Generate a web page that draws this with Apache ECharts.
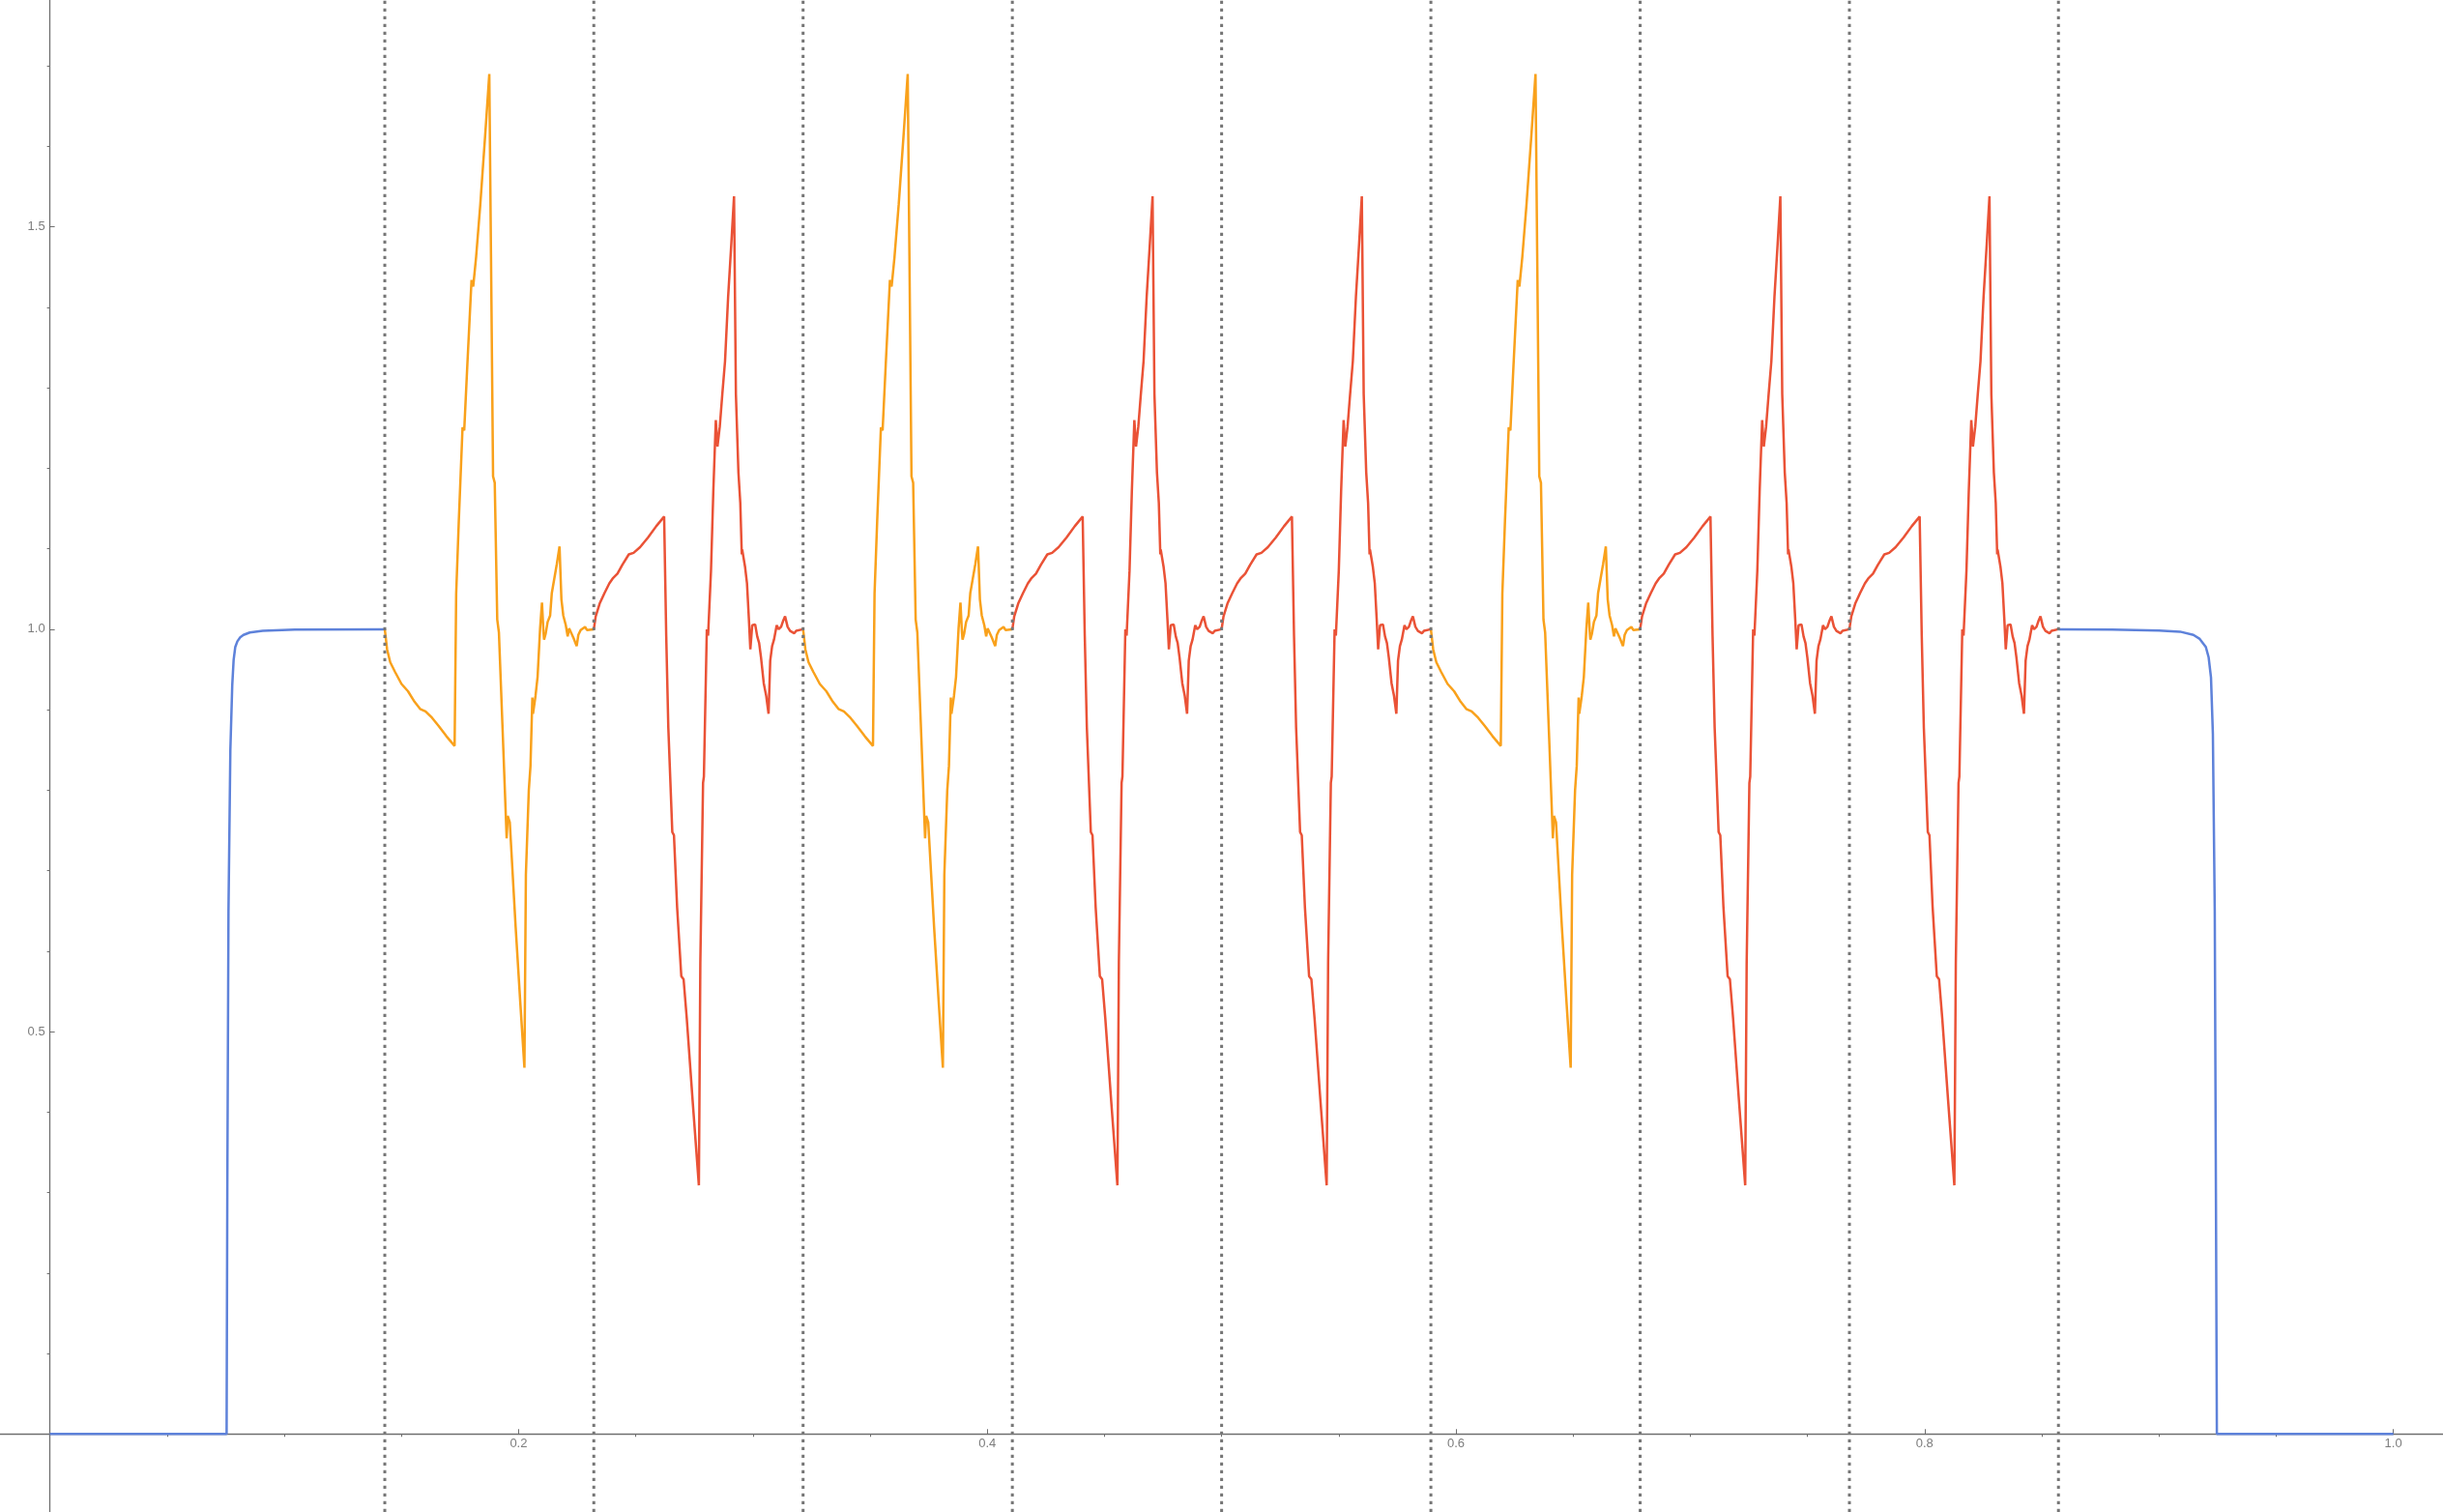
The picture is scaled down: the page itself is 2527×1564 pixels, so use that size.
<!DOCTYPE html>
<html>
<head>
<meta charset="utf-8">
<script src="https://cdn.jsdelivr.net/npm/echarts@6/dist/echarts.min.js"></script>
<style>
    html, body { margin: 0; padding: 0; background: #fff; }
    #chart { width: 2527px; height: 1564px; }
</style>
</head>
<body>
<div id="chart"></div>
<script>
// dotted vertical separators
var bounds = [0.1429, 0.2321, 0.3214, 0.4107, 0.5, 0.5893, 0.6786, 0.7679, 0.8571];
// which slot (between two separators) holds which pulse shape
var orangeSlots = [0, 2, 5];
var redSlots = [1, 3, 4, 6, 7];

// orange pulse, position inside its slot (0..1) and value
var orangeT = [0, 0.011, 0.026, 0.049, 0.08, 0.111, 0.142, 0.169, 0.195, 0.226, 0.257, 0.295, 0.334,
    0.3415, 0.354, 0.372, 0.38, 0.395, 0.415, 0.423, 0.437, 0.457, 0.48, 0.5,
    0.508, 0.518, 0.526, 0.538, 0.546, 0.565, 0.583, 0.588, 0.598, 0.626, 0.649, 0.668,
    0.675, 0.689, 0.697, 0.706, 0.709, 0.721, 0.731, 0.743, 0.752, 0.759, 0.762, 0.77, 0.779, 0.791,
    0.799, 0.811, 0.823, 0.836, 0.845, 0.854, 0.866, 0.875, 0.882, 0.888, 0.903, 0.918, 0.926, 0.937,
    0.958, 0.967, 1];
var orangeV = [1.0, 0.975, 0.959, 0.947, 0.932, 0.923, 0.91, 0.901, 0.898, 0.89, 0.88, 0.867, 0.855,
    1.044, 1.134, 1.251, 1.247, 1.329, 1.434, 1.426, 1.463, 1.528, 1.613, 1.69,
    1.467, 1.19, 1.182, 1.012, 0.996, 0.866, 0.74, 0.768, 0.76, 0.63, 0.533, 0.455,
    0.695, 0.8, 0.83, 0.915, 0.895, 0.917, 0.941, 1.001, 1.033, 0.997, 0.987, 0.995, 1.009, 1.017,
    1.045, 1.063, 1.081, 1.103, 1.037, 1.017, 1.005, 0.991, 1.001, 0.999, 0.989, 0.979, 0.993, 0.999,
    1.003, 0.999, 1.0];

// red pulse
var redT = [0, 0.009, 0.028, 0.051, 0.074, 0.09, 0.113, 0.136, 0.167, 0.19, 0.221, 0.259, 0.298, 0.336,
    0.346, 0.356, 0.375, 0.383, 0.398, 0.418, 0.429, 0.444, 0.472, 0.502,
    0.509, 0.522, 0.526, 0.54, 0.546, 0.56, 0.571, 0.583, 0.591, 0.602, 0.614, 0.627, 0.642, 0.657, 0.67,
    0.679, 0.691, 0.7, 0.707, 0.709, 0.723, 0.732, 0.741, 0.748, 0.757, 0.765, 0.771, 0.781, 0.79, 0.799,
    0.812, 0.824, 0.835, 0.843, 0.852, 0.861, 0.874, 0.883, 0.895, 0.904, 0.914, 0.926, 0.938, 0.958,
    0.967, 1];
var redV = [1.0, 1.016, 1.032, 1.045, 1.057, 1.063, 1.069, 1.08, 1.093, 1.095, 1.102, 1.114, 1.128, 1.14,
    0.992, 0.878, 0.748, 0.744, 0.655, 0.569, 0.565, 0.517, 0.415, 0.309,
    0.586, 0.809, 0.817, 1.0, 0.992, 1.073, 1.171, 1.26, 1.227, 1.252, 1.292, 1.333, 1.414, 1.479, 1.538,
    1.292, 1.195, 1.157, 1.093, 1.099, 1.077, 1.057, 1.013, 0.975, 1.005, 1.003, 1.006, 0.991, 0.983, 0.965,
    0.933, 0.917, 0.895, 0.961, 0.979, 0.987, 1.005, 1.0, 1.003, 1.01, 1.016, 1.003, 0.998, 0.995,
    0.998, 1.0];

// blue edges
var blueLeftX = [0, 0.0754, 0.0757, 0.0762, 0.077, 0.0778, 0.0784, 0.0791, 0.08, 0.0812, 0.0826, 0.0853, 0.0908, 0.1045, 0.1429];
var blueLeftY = [0, 0, 0.3, 0.65, 0.85, 0.93, 0.962, 0.978, 0.985, 0.99, 0.993, 0.996, 0.998, 0.9995, 1.0];
var blueRightX = [0.8571, 0.88, 0.9, 0.909, 0.9147, 0.9174, 0.92, 0.9212, 0.9222, 0.923, 0.9238, 0.9243, 0.9247, 1.0];
var blueRightY = [1.0, 0.9995, 0.9985, 0.997, 0.993, 0.988, 0.978, 0.965, 0.94, 0.87, 0.65, 0.3, 0, 0];

// axes
var xMajor = [0.2, 0.4, 0.6, 0.8, 1.0];
var xMinor = [0.05, 0.1, 0.15, 0.25, 0.3, 0.35, 0.45, 0.5, 0.55, 0.65, 0.7, 0.75, 0.85, 0.9, 0.95];
var yMajor = [0.5, 1.0, 1.5];
var yMinor = [0.1, 0.2, 0.3, 0.4, 0.6, 0.7, 0.8, 0.9, 1.1, 1.2, 1.3, 1.4, 1.6, 1.7];

var xMin = -0.0213, xMax = 1.0212;
var yMin = -0.097, yMax = 1.782;

var axisColor = '#6f6f6f';
var labelColor = '#7d7d7d';
var orange = '#F9A11B';
var red = '#EA5236';
var blue = '#5E82DA';

function zip(xs, ys) {
    return xs.map(function (x, i) { return [x, ys[i]]; });
}

function pulse(slot, ts, vs, color) {
    var x0 = bounds[slot];
    var w = bounds[slot + 1] - bounds[slot];
    return {
        type: 'line',
        symbol: 'none',
        silent: true,
        lineStyle: { color: color, width: 2.5 },
        data: ts.map(function (t, i) { return [x0 + t * w, vs[i]]; })
    };
}

var series = [];
series.push({
    type: 'line',
    symbol: 'none',
    silent: true,
    lineStyle: { color: blue, width: 2.5 },
    data: zip(blueLeftX, blueLeftY)
});
series.push({
    type: 'line',
    symbol: 'none',
    silent: true,
    lineStyle: { color: blue, width: 2.5 },
    data: zip(blueRightX, blueRightY)
});
orangeSlots.forEach(function (s) { series.push(pulse(s, orangeT, orangeV, orange)); });
redSlots.forEach(function (s) { series.push(pulse(s, redT, redV, red)); });
// dotted separators, full height
bounds.forEach(function (b) {
    series.push({
        type: 'line',
        symbol: 'none',
        silent: true,
        clip: false,
        z: 3,
        lineStyle: { color: '#767676', width: 3, type: [3.3, 4.7] },
        data: [[b, yMin], [b, yMax]]
    });
});

var chartDom = document.getElementById('chart');
var W = chartDom.clientWidth, H = chartDom.clientHeight;
// second grid has its edges on the zero lines, it only carries the tick labels
var zeroLeft = -xMin / (xMax - xMin) * W;
var zeroBottom = -yMin / (yMax - yMin) * H;

var labelStyle = {
    margin: 4, color: labelColor, fontSize: 13, fontFamily: 'Liberation Sans',
    formatter: function (v) { return v.toFixed(1); }
};

var myChart = echarts.init(chartDom);
var option = {
    animation: false,
    backgroundColor: '#ffffff',
    grid: [
        { left: 0, right: 0, top: 0, bottom: 0, outerBoundsMode: 'none', containLabel: false },
        { left: zeroLeft, right: 0, top: 0, bottom: zeroBottom, outerBoundsMode: 'none', containLabel: false }
    ],
    xAxis: [
        {
            type: 'value', gridIndex: 0, min: xMin, max: xMax,
            axisLine: { onZero: true, onZeroAxisIndex: 0, lineStyle: { color: axisColor, width: 1.3 } },
            axisTick: { inside: true, length: 5, customValues: xMajor, lineStyle: { color: axisColor } },
            axisLabel: { show: false },
            splitLine: { show: false }
        },
        {
            type: 'value', gridIndex: 0, min: xMin, max: xMax,
            axisLine: { show: false, onZero: true, onZeroAxisIndex: 0 },
            axisTick: { inside: true, length: 3, customValues: xMinor, lineStyle: { color: axisColor } },
            axisLabel: { show: false },
            splitLine: { show: false }
        },
        {
            type: 'value', gridIndex: 1, min: 0, max: xMax,
            axisLine: { show: false, onZero: false },
            axisTick: { show: false },
            axisLabel: Object.assign({ customValues: xMajor }, labelStyle),
            splitLine: { show: false }
        }
    ],
    yAxis: [
        {
            type: 'value', gridIndex: 0, min: yMin, max: yMax,
            axisLine: { onZero: true, onZeroAxisIndex: 0, lineStyle: { color: axisColor, width: 1.3 } },
            axisTick: { inside: true, length: 5, customValues: yMajor, lineStyle: { color: axisColor } },
            axisLabel: { show: false },
            splitLine: { show: false }
        },
        {
            type: 'value', gridIndex: 0, min: yMin, max: yMax,
            axisLine: { show: false, onZero: true, onZeroAxisIndex: 0 },
            axisTick: { inside: true, length: 3, customValues: yMinor, lineStyle: { color: axisColor } },
            axisLabel: { show: false },
            splitLine: { show: false }
        },
        {
            type: 'value', gridIndex: 1, min: 0, max: yMax,
            axisLine: { show: false, onZero: false },
            axisTick: { show: false },
            axisLabel: Object.assign({ customValues: yMajor }, labelStyle, { margin: 5 }),
            splitLine: { show: false }
        }
    ],
    series: series
};
myChart.setOption(option);
</script>
</body>
</html>
